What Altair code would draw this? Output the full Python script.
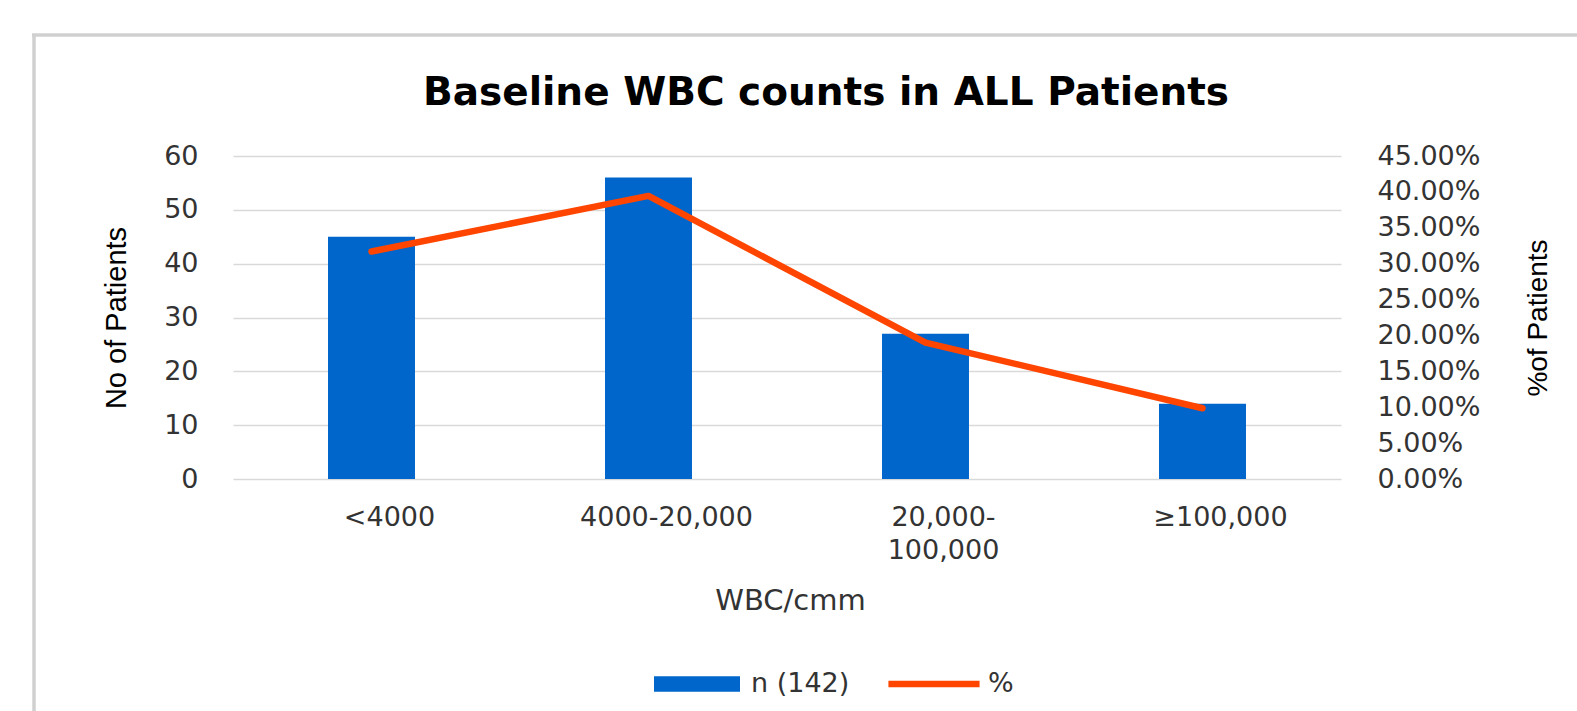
import altair as alt
import pandas as pd

# ---- data ----
categories = ["<4000", "4000-20,000", "20,000-100,000", "≥100,000"]
counts = [45, 56, 27, 14]
percents = [0.3169, 0.3944, 0.1901, 0.0986]
series_names = ["n (142)", "%"]
series_colors = ["#0066CC", "#FF4500"]
left_ticks = [0, 10, 20, 30, 40, 50, 60]
right_ticks = [0, 0.05, 0.10, 0.15, 0.20, 0.25, 0.30, 0.35, 0.40, 0.45]

df = pd.DataFrame({"cat": categories, "n": counts, "pct": percents})
legend_df = pd.DataFrame({"series": series_names})
one = pd.DataFrame({"d": [0]})

FONT = "DejaVu Sans"
SIDE = "Liberation Sans"
W, H = 1108, 323
TICK = 27

x_scale = alt.Scale(paddingInner=0.686, paddingOuter=0.343)
x_axis = alt.Axis(title="WBC/cmm", labelAngle=0, ticks=False, domain=False,
                  labelFont=FONT, labelFontSize=TICK, labelColor="#333333",
                  labelPadding=25, labelOffset=18, labelLineHeight=33,
                  labelExpr="datum.value == '20,000-100,000' ? ['20,000-', '100,000'] : datum.label",
                  titleFont=FONT, titleFontSize=29, titleFontWeight="normal",
                  titleColor="#333333", titleX=W / 2 + 3, titleY=121,
                  titleBaseline="middle", titleAlign="center")

bars = alt.Chart(df).mark_bar(color=series_colors[0]).encode(
    x=alt.X("cat:N", sort=categories, scale=x_scale, axis=x_axis),
    y=alt.Y("n:Q", scale=alt.Scale(domain=[0, 60], nice=False),
            axis=alt.Axis(values=left_ticks, title="No of Patients", grid=True,
                          gridColor="#D9D9D9", gridWidth=1.5, ticks=False, domain=False,
                          labelFont=FONT, labelFontSize=TICK, labelColor="#333333",
                          labelPadding=35,
                          titleFont=SIDE, titleFontSize=29, titleFontWeight="normal",
                          titleColor="#000000", titleAngle=270, titleX=-117, titleY=H / 2,
                          titleBaseline="middle", titleAlign="center")),
)

line = alt.Chart(df).mark_line(color=series_colors[1], strokeWidth=6.5, strokeCap="round",
                               strokeJoin="round").encode(
    x=alt.X("cat:N", sort=categories, scale=x_scale, axis=x_axis),
    y=alt.Y("pct:Q", scale=alt.Scale(domain=[0, 0.45], nice=False),
            axis=alt.Axis(orient="right", values=right_ticks, format=".2%", grid=False,
                          ticks=False, domain=False, title="%of Patients",
                          labelFont=FONT, labelFontSize=TICK, labelColor="#333333",
                          labelPadding=36,
                          titleFont=SIDE, titleFontSize=28, titleFontWeight="normal",
                          titleColor="#000000", titleAngle=270, titleX=197, titleY=H / 2,
                          titleBaseline="middle", titleAlign="center")),
)

# legend-only layer: no rows are drawn, the legend comes from the fixed scale domain
legend_layer = alt.Chart(legend_df).transform_filter("false").mark_point(
    filled=True, opacity=1).encode(
    color=alt.Color("series:N",
                    scale=alt.Scale(domain=series_names, range=series_colors),
                    legend=alt.Legend(orient="none", legendX=421, legendY=485,
                                      direction="horizontal", title=None,
                                      symbolSize=7396, symbolOpacity=1,
                                      symbolStrokeWidth=0, labelFont=FONT,
                                      labelFontSize=TICK, labelColor="#333333",
                                      labelOffset=11, columnPadding=38)),
    shape=alt.Shape("series:N",
                    scale=alt.Scale(domain=series_names,
                                    range=["M-1,-0.18H1V0.18H-1Z",
                                           "M-1.06,-0.075H1.06V0.075H-1.06Z"])),
)

border_left = alt.Chart(one).mark_rule(color="#D0D0D0", strokeWidth=3.5).encode(
    x=alt.value(-199), y=alt.value(-121), y2=alt.value(600))
border_top = alt.Chart(one).mark_rule(color="#D0D0D0", strokeWidth=3.5).encode(
    x=alt.value(-201), x2=alt.value(1400), y=alt.value(-121))

chart = alt.layer(border_left, border_top, bars, line, legend_layer).resolve_scale(
    y="independent"
).properties(
    width=W, height=H,
    autosize=alt.AutoSizeParams(type="none"),
    padding={"left": 233, "top": 156, "right": 236, "bottom": 232},
    background="white",
    title=alt.TitleParams("Baseline WBC counts in ALL Patients", font=FONT,
                          fontSize=39, fontWeight="bold", color="#000000",
                          anchor="middle", baseline="alphabetic", dx=39, dy=111,
                          offset=0),
).configure_view(stroke=None)

chart.save("out.html", embed_options={"renderer": "svg", "actions": False})
